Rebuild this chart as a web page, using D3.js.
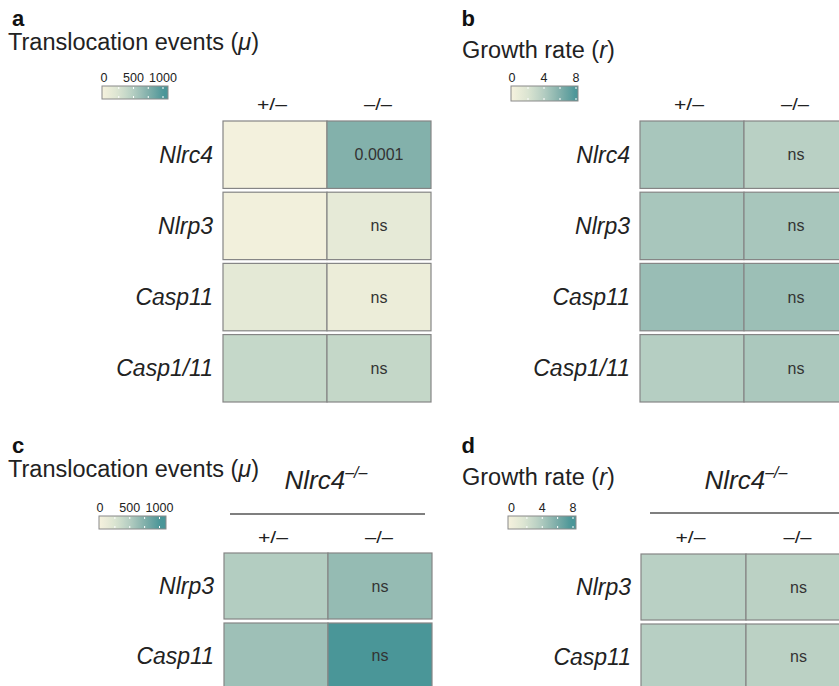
<!DOCTYPE html>
<html>
<head>
<meta charset="utf-8">
<script src="https://cdn.jsdelivr.net/npm/d3@7"></script>
<style>
  html, body { margin: 0; padding: 0; background: #fff; }
  svg { display: block; font-family: "Liberation Sans", Arial, Helvetica, sans-serif; }
</style>
</head>
<body>
<svg id="chart" width="839" height="686"></svg>
<script>
// Genotype columns and gene rows
const genotypes = ["+/\u2013", "\u2013/\u2013"];
const genesAB = ["Nlrc4", "Nlrp3", "Casp11", "Casp1/11"];
const genesCD = ["Nlrp3", "Casp11"];

// Translocation events (mu), heterozygous vs knockout
const muA_het = [25, 35, 175, 395];
const muA_ko = [745, 150, 100, 405];
const pA = ["0.0001", "ns", "ns", "ns"];

// Growth rate (r)
const rB_het = [4.5, 4.5, 5.1, 4.0];
const rB_ko = [3.8, 4.5, 5.0, 4.4];
const pB = ["ns", "ns", "ns", "ns"];

// On Nlrc4-/- background
const muC_het = [510, 615];
const muC_ko = [660, 1000];
const pC = ["ns", "ns"];
const rD_het = [3.8, 3.9];
const rD_ko = [3.7, 3.7];
const pD = ["ns", "ns"];

// Colour-bar labels and minor tick marks
const muTicks = [0, 500, 1000];
const muMinor = [250, 500, 750, 1000];
const rTicks = [0, 4, 8];
const rMinor = [2, 4, 6, 8];

const palette = ["#f6f2de", "#dce5d2", "#b5cec2", "#82b0ab", "#4a9698"];
function colourScale(max) {
  return d3.scaleLinear()
    .domain(d3.range(palette.length).map(i => max * i / (palette.length - 1)))
    .range(palette)
    .interpolate(d3.interpolateLab)
    .clamp(true);
}

const svg = d3.select("#chart");
const defs = svg.append("defs");
const FONT_TITLE = 23.5, FONT_ROW = 23;

function drawPanel(cfg, idx) {
  const g = svg.append("g");
  const colour = colourScale(cfg.max);

  // panel letter
  g.append("text").attr("x", cfg.letterX).attr("y", cfg.letterY)
    .attr("font-size", 22).attr("font-weight", "bold").attr("fill", "#111")
    .text(cfg.letter);

  // title with italic symbol
  const t = g.append("text").attr("x", cfg.titleX).attr("y", cfg.titleY)
    .attr("font-size", FONT_TITLE).attr("fill", "#222");
  t.append("tspan").text(cfg.title + " (");
  t.append("tspan").attr("font-style", "italic").text(cfg.symbol);
  t.append("tspan").text(")");

  // colour bar
  const L = cfg.legend;
  const gradId = "grad" + idx;
  const grad = defs.append("linearGradient").attr("id", gradId)
    .attr("x1", "0%").attr("x2", "100%").attr("y1", "0%").attr("y2", "0%");
  d3.range(0, 1.0001, 0.05).forEach(f => {
    grad.append("stop").attr("offset", (f * 100) + "%").attr("stop-color", colour(f * cfg.max * L.top));
  });
  const lx = d3.scaleLinear().domain([0, cfg.max]).range([L.s0, L.s1]);
  g.append("rect").attr("x", L.x).attr("y", L.y).attr("width", L.w).attr("height", L.h)
    .attr("fill", `url(#${gradId})`).attr("stroke", "#8a8a8a").attr("stroke-width", 1);
  g.selectAll(null).data(cfg.minor).join("g").each(function (d) {
    const x = lx(d);
    d3.select(this).append("line").attr("x1", x).attr("x2", x)
      .attr("y1", L.y + 1).attr("y2", L.y + 3).attr("stroke", "#fff").attr("stroke-width", 1);
    d3.select(this).append("line").attr("x1", x).attr("x2", x)
      .attr("y1", L.y + L.h - 3).attr("y2", L.y + L.h - 1).attr("stroke", "#fff").attr("stroke-width", 1);
  });
  g.selectAll(null).data(cfg.ticks).join("text")
    .attr("x", d => lx(d)).attr("y", L.labelY)
    .attr("text-anchor", "middle").attr("font-size", 12.5).attr("fill", "#222")
    .text(d => d);

  // optional background genotype header
  if (cfg.header) {
    const H = cfg.header;
    const ht = g.append("text").attr("x", H.cx).attr("y", H.y)
      .attr("text-anchor", "middle").attr("font-size", 26).attr("font-style", "italic").attr("fill", "#222");
    ht.append("tspan").text("Nlrc4");
    ht.append("tspan").attr("font-size", 16).attr("dy", -11).text("\u2013/\u2013");
    g.append("line").attr("x1", H.x1).attr("x2", H.x2).attr("y1", H.lineY).attr("y2", H.lineY)
      .attr("stroke", "#555").attr("stroke-width", 1.4);
  }

  // heatmap scales
  const x = d3.scaleBand().domain(genotypes).range(cfg.colRange).padding(0);
  const y = d3.scaleBand().domain(cfg.rows).range(cfg.rowRange).paddingInner(cfg.rowPad).paddingOuter(0);

  g.selectAll(null).data(genotypes).join("text")
    .attr("x", (d, i) => x(d) + x.bandwidth() / 2 - (i === 0 ? 3 : 1)).attr("y", cfg.headY)
    .attr("text-anchor", "middle").attr("font-size", 16.5).attr("fill", "#222")
    .attr("textLength", (d, i) => i === 0 ? 30 : 28).attr("lengthAdjust", "spacingAndGlyphs")
    .text(d => d);

  const cells = [];
  cfg.rows.forEach((r, i) => {
    cells.push({ row: r, col: genotypes[0], v: cfg.het[i], p: null });
    cells.push({ row: r, col: genotypes[1], v: cfg.ko[i], p: cfg.p[i] });
  });

  g.selectAll(null).data(cells).join("rect")
    .attr("x", d => x(d.col)).attr("y", d => y(d.row))
    .attr("width", x.bandwidth()).attr("height", y.bandwidth())
    .attr("fill", d => colour(d.v)).attr("stroke", "#858585").attr("stroke-width", 1.2);

  g.selectAll(null).data(cells.filter(d => d.p)).join("text")
    .attr("x", d => x(d.col) + x.bandwidth() / 2).attr("y", d => y(d.row) + y.bandwidth() / 2 + 5.5)
    .attr("text-anchor", "middle").attr("font-size", 16).attr("fill", "#333")
    .text(d => d.p);

  g.selectAll(null).data(cfg.rows).join("text")
    .attr("x", cfg.colRange[0] - 10).attr("y", d => y(d) + y.bandwidth() / 2 + 8)
    .attr("text-anchor", "end").attr("font-size", FONT_ROW).attr("font-style", "italic").attr("fill", "#222")
    .text(d => d);
}

const panels = [
  { letter: "a", letterX: 12, letterY: 26, titleX: 8, title: "Translocation events", symbol: "\u03bc", titleY: 50,
    max: 1000, ticks: muTicks, minor: muMinor,
    legend: { x: 102, y: 86, w: 66, h: 13, s0: 104, s1: 163, labelY: 82, top: 1.07 },
    rows: genesAB, het: muA_het, ko: muA_ko, p: pA,
    colRange: [223, 431], rowRange: [121, 402], rowPad: 0.053, headY: 110 },
  { letter: "b", letterX: 461.5, letterY: 26, titleX: 462, title: "Growth rate", symbol: "r", titleY: 58,
    max: 8, ticks: rTicks, minor: rMinor,
    legend: { x: 511, y: 86, w: 67, h: 15, s0: 512, s1: 576, labelY: 82, top: 1.03 },
    rows: genesAB, het: rB_het, ko: rB_ko, p: pB,
    colRange: [640, 848], rowRange: [121, 402], rowPad: 0.053, headY: 110 },
  { letter: "c", letterX: 12, letterY: 453, titleX: 8, title: "Translocation events", symbol: "\u03bc", titleY: 477,
    max: 1000, ticks: muTicks, minor: muMinor,
    legend: { x: 99, y: 516, w: 67, h: 13, s0: 100, s1: 159.5, labelY: 512, top: 1.1 },
    header: { cx: 326, y: 489, lineY: 514, x1: 230, x2: 425 },
    rows: genesCD, het: muC_het, ko: muC_ko, p: pC,
    colRange: [224, 432], rowRange: [553, 689], rowPad: 0.057, headY: 543 },
  { letter: "d", letterX: 461.5, letterY: 453, titleX: 462, title: "Growth rate", symbol: "r", titleY: 485,
    max: 8, ticks: rTicks, minor: rMinor,
    legend: { x: 508, y: 516, w: 68, h: 13, s0: 511.5, s1: 573, labelY: 512, top: 1.08 },
    header: { cx: 746, y: 489, lineY: 513, x1: 650, x2: 845 },
    rows: genesCD, het: rD_het, ko: rD_ko, p: pD,
    colRange: [641, 851], rowRange: [554, 690], rowPad: 0.057, headY: 543 }
];

panels.forEach(drawPanel);
</script>
</body>
</html>
